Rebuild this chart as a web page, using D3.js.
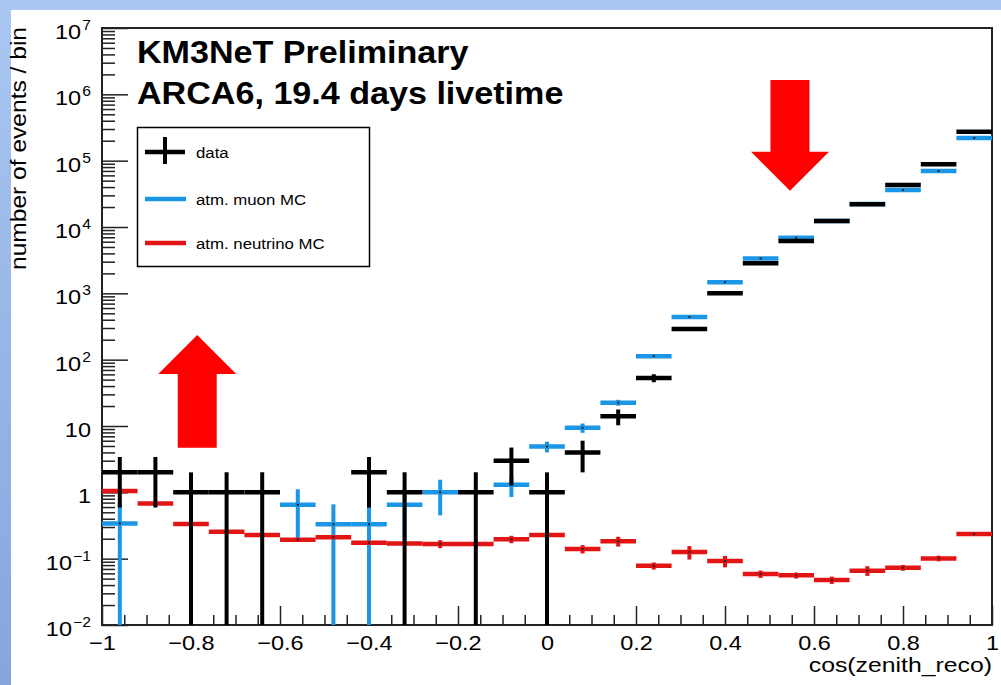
<!DOCTYPE html>
<html>
<head>
<meta charset="utf-8">
<script src="https://cdn.jsdelivr.net/npm/d3@7"></script>
<style>
  html, body { margin: 0; padding: 0; background: #fff; }
  svg { display: block; }
  text { font-family: "Liberation Sans", Arial, Helvetica, sans-serif; fill: #000; }
</style>
</head>
<body>
<svg id="chart" width="1001" height="685"></svg>
<script>
// ---- histogram contents: 25 bins of cos(zenith_reco) ----
const binCenters = [-0.96, -0.88, -0.80, -0.72, -0.64, -0.56, -0.48, -0.40, -0.32, -0.24, -0.16, -0.08, 0.00,
                     0.08, 0.16, 0.24, 0.32, 0.40, 0.48, 0.56, 0.64, 0.72, 0.80, 0.88, 0.96];
const binWidth = 0.08;

// observed events (0 = empty bin, not drawn)
const dataCounts = [2, 2, 1, 1, 1, 0, 0, 2, 1, 0, 1, 3, 1,
                    4, 14, 53, 290, 1000, 2840, 6150, 12300, 22000, 43000, 88000, 274000];
const dataErrors = [1.41, 1.41, 1, 1, 1, 0, 0, 1.41, 1, 0, 1, 1.73, 1,
                    2, 3.74, 7.3, 17, 32, 53, 78, 111, 148, 207, 297, 523];

// atmospheric muon simulation
const muonMC = [0.34, 0, 0, 0, 0, 0.65, 0.33, 0.33, 0.65, 1.0, 0, 1.3, 4.9,
                9.4, 22.5, 113, 440, 1470, 3340, 6900, 12300, 22300, 36100, 69900, 219800];
const muonErr = [0.34, 0, 0, 0, 0, 0.46, 0.33, 0.33, 0.46, 0.55, 0, 0.45, 0.9,
                 1.5, 2.3, 6, 15, 40, 70, 120, 200, 300, 450, 800, 2000];

// atmospheric neutrino simulation
const nuMC = [1.05, 0.68, 0.333, 0.255, 0.227, 0.193, 0.21, 0.174, 0.17, 0.167, 0.167, 0.196, 0.227,
              0.14, 0.183, 0.078, 0.126, 0.092, 0.0587, 0.056, 0.0476, 0.066, 0.073, 0.101, 0.235];
const nuErr = [0.03, 0.03, 0.015, 0.012, 0.01, 0.01, 0.012, 0.01, 0.012, 0.023, 0.017, 0.025, 0.03,
               0.02, 0.031, 0.0095, 0.029, 0.018, 0.0075, 0.0058, 0.006, 0.011, 0.0075, 0.01, 0.008];

// axis ticks
const xMajorTicks = [-1, -0.8, -0.6, -0.4, -0.2, 0, 0.2, 0.4, 0.6, 0.8, 1];
const xMinorTicks = [-0.95, -0.9, -0.85, -0.75, -0.7, -0.65, -0.55, -0.5, -0.45, -0.35, -0.3, -0.25,
                     -0.15, -0.1, -0.05, 0.05, 0.1, 0.15, 0.25, 0.3, 0.35, 0.45, 0.5, 0.55,
                     0.65, 0.7, 0.75, 0.85, 0.9, 0.95];
const yExponents = [-2, -1, 0, 1, 2, 3, 4, 5, 6, 7];
const yTickLabels = [["10", "\u22122"], ["10", "\u22121"], ["1", ""], ["10", ""], ["10", "2"], ["10", "3"],
                     ["10", "4"], ["10", "5"], ["10", "6"], ["10", "7"]];
const yMinorMantissas = [2, 3, 4, 5, 6, 7, 8, 9];

// legend and annotation text
const titleLines = ["KM3NeT Preliminary", "ARCA6, 19.4 days livetime"];
const legendLabels = ["data", "atm. muon MC", "atm. neutrino MC"];
const xTitle = "cos(zenith_reco)";
const yTitle = "number of events / bin";

// arrows: [x centre, tail value, tip value]
const arrowUp = [-0.786, 4.7, 235];
const arrowDown = [0.546, 1.65e6, 35300];

// ---- layout ----
const W = 1001, H = 685;
const plot = { left: 102, right: 992, top: 28, bottom: 625 };
const SX = 1.12;               // horizontal stretch applied to lettering
const colData = "#000000", colMuon = "#1b96e6", colNu = "#e21414";

const svg = d3.select("#chart");

// slide background
const defs = svg.append("defs");
const grad = defs.append("linearGradient").attr("id", "bg").attr("x1", 0).attr("y1", 0).attr("x2", 0).attr("y2", 1);
grad.append("stop").attr("offset", "0%").attr("stop-color", "#a9c7f2");
grad.append("stop").attr("offset", "100%").attr("stop-color", "#86a5db");
svg.append("rect").attr("width", W).attr("height", H).attr("fill", "url(#bg)");
svg.append("rect").attr("x", 11).attr("y", 10).attr("width", W - 11).attr("height", H - 10).attr("fill", "#fff");

const x = d3.scaleLinear().domain([-1, 1]).range([plot.left, plot.right]);
const y = d3.scaleLog().domain([0.01, 1e7]).range([plot.bottom, plot.top]);

// ---- axes (ticks point into the frame) ----
const yMajorVals = yExponents.map(e => Math.pow(10, e));
const yMinorVals = [];
yExponents.slice(0, -1).forEach(e => yMinorMantissas.forEach(m => yMinorVals.push(m * Math.pow(10, e))));

const gy = svg.append("g").attr("transform", `translate(${plot.left},0)`);
gy.call(d3.axisLeft(y).tickValues(yMajorVals).tickSize(-26).tickFormat(""));
gy.append("g").call(d3.axisLeft(y).tickValues(yMinorVals).tickSize(-13).tickFormat(""));
gy.selectAll(".domain").remove();
gy.selectAll("line").attr("stroke", "#222").attr("stroke-width", 1.5);

const gx = svg.append("g").attr("transform", `translate(0,${plot.bottom})`);
gx.call(d3.axisBottom(x).tickValues(xMajorTicks).tickSize(-19).tickPadding(10)
          .tickFormat(d => Math.abs(d) < 1e-9 ? "0" : d3.format("~r")(d)));
gx.append("g").call(d3.axisBottom(x).tickValues(xMinorTicks).tickSize(-10).tickFormat(""));
gx.selectAll(".domain").remove();
gx.selectAll("line").attr("stroke", "#222").attr("stroke-width", 1.5);
gx.selectAll("text").attr("font-size", 21).attr("fill", "#000")
  .attr("font-family", '"Liberation Sans", Arial, sans-serif')
  .attr("transform", `scale(${SX},1)`);

// y tick labels with exponents
yMajorVals.forEach((v, i) => {
  const g = svg.append("g").attr("transform", `translate(91,${y(v) + 11}) scale(${SX},1)`);
  const t = g.append("text").attr("text-anchor", "end").attr("font-size", 21);
  t.append("tspan").text(yTickLabels[i][0]);
  if (yTickLabels[i][1]) {
    t.append("tspan").attr("font-size", 14).attr("dy", -9).attr("dx", 1).text(yTickLabels[i][1]);
  }
});

// frame
svg.append("rect").attr("x", plot.left).attr("y", plot.top)
   .attr("width", plot.right - plot.left).attr("height", plot.bottom - plot.top)
   .attr("fill", "none").attr("stroke", "#222").attr("stroke-width", 2);

// ---- histograms with error crosses ----
const clip = defs.append("clipPath").attr("id", "frameClip");
clip.append("rect").attr("x", plot.left).attr("y", plot.top)
    .attr("width", plot.right - plot.left).attr("height", plot.bottom - plot.top);
const marks = svg.append("g").attr("clip-path", "url(#frameClip)");

function drawSeries(values, errors, color, dot) {
  const rows = binCenters.map((c, i) => ({ c, v: values[i], e: errors[i] })).filter(d => d.v > 0);
  const g = marks.append("g");
  g.selectAll("line.err").data(rows).join("line")
    .attr("x1", d => x(d.c)).attr("x2", d => x(d.c))
    .attr("y1", d => y(d.v + d.e))
    .attr("y2", d => (d.v - d.e) > 0.01 ? y(d.v - d.e) : plot.bottom + 2)
    .attr("stroke", color).attr("stroke-width", 4);
  g.selectAll("line.bin").data(rows).join("line")
    .attr("x1", d => x(d.c - binWidth / 2)).attr("x2", d => x(d.c + binWidth / 2))
    .attr("y1", d => y(d.v)).attr("y2", d => y(d.v))
    .attr("stroke", color).attr("stroke-width", 4.5);
  if (dot) {
    g.selectAll("rect.dot").data(rows).join("rect")
      .attr("x", d => x(d.c) - 1).attr("y", d => y(d.v) - 1)
      .attr("width", 2).attr("height", 2).attr("fill", "#222");
  }
}
drawSeries(muonMC, muonErr, colMuon, true);
drawSeries(nuMC, nuErr, colNu, true);
drawSeries(dataCounts, dataErrors, colData, false);

// ---- arrows ----
function arrow(spec, dir) {
  const cx = x(spec[0]), yTail = y(spec[1]), yTip = y(spec[2]);
  const shaft = 19.5, head = 39, headLen = 39 * dir;
  const yBase = yTip + headLen;
  const pts = [[cx - shaft, yTail], [cx - shaft, yBase], [cx - head, yBase], [cx, yTip],
               [cx + head, yBase], [cx + shaft, yBase], [cx + shaft, yTail]];
  svg.append("path").attr("d", d3.line()(pts) + "Z").attr("fill", "#ff0000");
}
arrow(arrowUp, 1);
arrow(arrowDown, -1);

// ---- title block ----
titleLines.forEach((s, i) => {
  svg.append("g").attr("transform", `translate(137,${63 + i * 41}) scale(1.1,1)`)
    .append("text").attr("font-size", 31).attr("font-weight", "bold").text(s);
});

// ---- legend ----
const lg = svg.append("g");
lg.append("rect").attr("x", 137.5).attr("y", 127.5).attr("width", 232).attr("height", 139)
  .attr("fill", "#fff").attr("stroke", "#000").attr("stroke-width", 1.5);
const legRows = [152, 199, 243];
// data cross
lg.append("line").attr("x1", 145).attr("x2", 185).attr("y1", legRows[0]).attr("y2", legRows[0])
  .attr("stroke", colData).attr("stroke-width", 4.5);
lg.append("line").attr("x1", 165).attr("x2", 165).attr("y1", legRows[0] - 15).attr("y2", legRows[0] + 12)
  .attr("stroke", colData).attr("stroke-width", 4);
lg.append("line").attr("x1", 145).attr("x2", 186).attr("y1", legRows[1]).attr("y2", legRows[1])
  .attr("stroke", colMuon).attr("stroke-width", 4.5);
lg.append("line").attr("x1", 145).attr("x2", 186).attr("y1", legRows[2]).attr("y2", legRows[2])
  .attr("stroke", colNu).attr("stroke-width", 4.5);
legendLabels.forEach((s, i) => {
  lg.append("g").attr("transform", `translate(196,${legRows[i] + 5.5}) scale(${SX},1)`)
    .append("text").attr("font-size", 15).text(s);
});

// ---- axis titles ----
svg.append("g").attr("transform", `translate(${plot.right},672) scale(1.24,1)`)
  .append("text").attr("text-anchor", "end").attr("font-size", 20).text(xTitle);
svg.append("g").attr("transform", `translate(26,27) scale(${SX},1) rotate(-90)`)
  .append("text").attr("text-anchor", "end").attr("font-size", 20)
  .attr("textLength", 243).attr("lengthAdjust", "spacingAndGlyphs").text(yTitle);
</script>
</body>
</html>
